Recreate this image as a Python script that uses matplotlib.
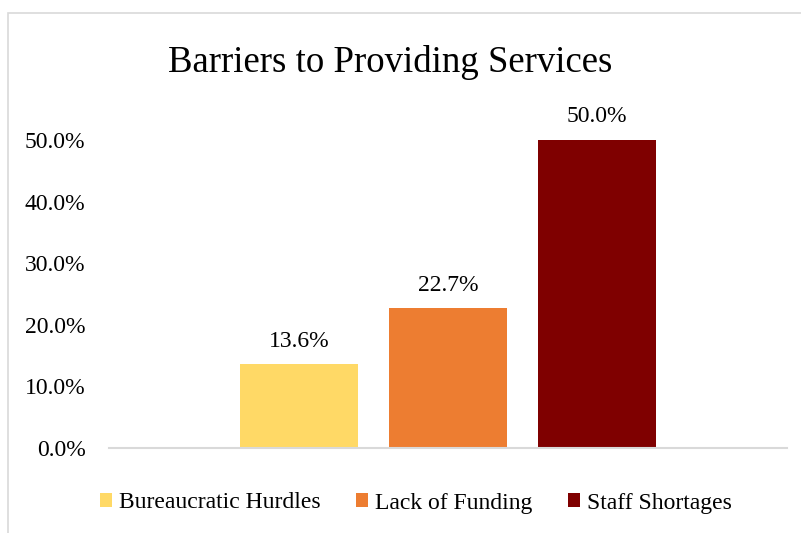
import matplotlib
matplotlib.use("Agg")
import matplotlib.pyplot as plt
from matplotlib.patches import Patch, Rectangle
from matplotlib.ticker import FuncFormatter

plt.rcParams['font.family'] = ['Liberation Serif', 'DejaVu Serif']

# survey results: share of respondents naming each barrier
barriers = ["Bureaucratic Hurdles", "Lack of Funding", "Staff Shortages"]
shares = [0.136, 0.227, 0.500]
colors = ["#FFD966", "#ED7D31", "#7F0000"]
y_ticks = [0.0, 0.1, 0.2, 0.3, 0.4, 0.5]

fig = plt.figure(figsize=(8.01, 5.33), dpi=100)

# light grey chart frame, partly cut off at right and bottom
fig.patches.append(Rectangle((7.5 / 801, -0.1), 1.2, 1 - 12.5 / 533 + 0.1,
                             transform=fig.transFigure, fill=False,
                             edgecolor="#D9D9D9", linewidth=1.2))

ax = fig.add_axes([109 / 801, 1 - 448 / 533, 678 / 801, 369.6 / 533])

bar_w = 118 / 678
step = 149 / 678
offsets = [(i - 1) * step for i in range(len(barriers))]
bars = ax.bar(offsets, shares, width=bar_w, color=colors)

for rect, v in zip(bars, shares):
    ax.annotate(f"{v:.1%}", xy=(rect.get_x() + rect.get_width() / 2, v),
                xytext=(0, 9), textcoords="offset points",
                ha="center", va="bottom", fontsize=17)

ax.set_xlim(-0.5, 0.5)
ax.set_ylim(0, 0.6)
ax.set_yticks(y_ticks)
ax.yaxis.set_major_formatter(FuncFormatter(lambda v, _: f"{v:.1%}"))
ax.tick_params(axis="y", length=0, pad=17, labelsize=17)
ax.set_xticks([])
for s in ["left", "top", "right"]:
    ax.spines[s].set_visible(False)
ax.spines["bottom"].set_color("#D9D9D9")
ax.spines["bottom"].set_linewidth(1.5)

fig.text(390 / 801, 1 - 62 / 533, "Barriers to Providing Services",
         ha="center", va="center", fontsize=26.5)

handles = [Patch(facecolor=c, label=b) for b, c in zip(barriers, colors)]
fig.legend(handles=handles, loc="center", bbox_to_anchor=(416 / 801, 1 - 503 / 533),
           ncol=3, frameon=False, fontsize=17, handlelength=0.5, handleheight=0.5,
           handletextpad=0.3, columnspacing=1.5)

fig.savefig("out.png", dpi=100)
